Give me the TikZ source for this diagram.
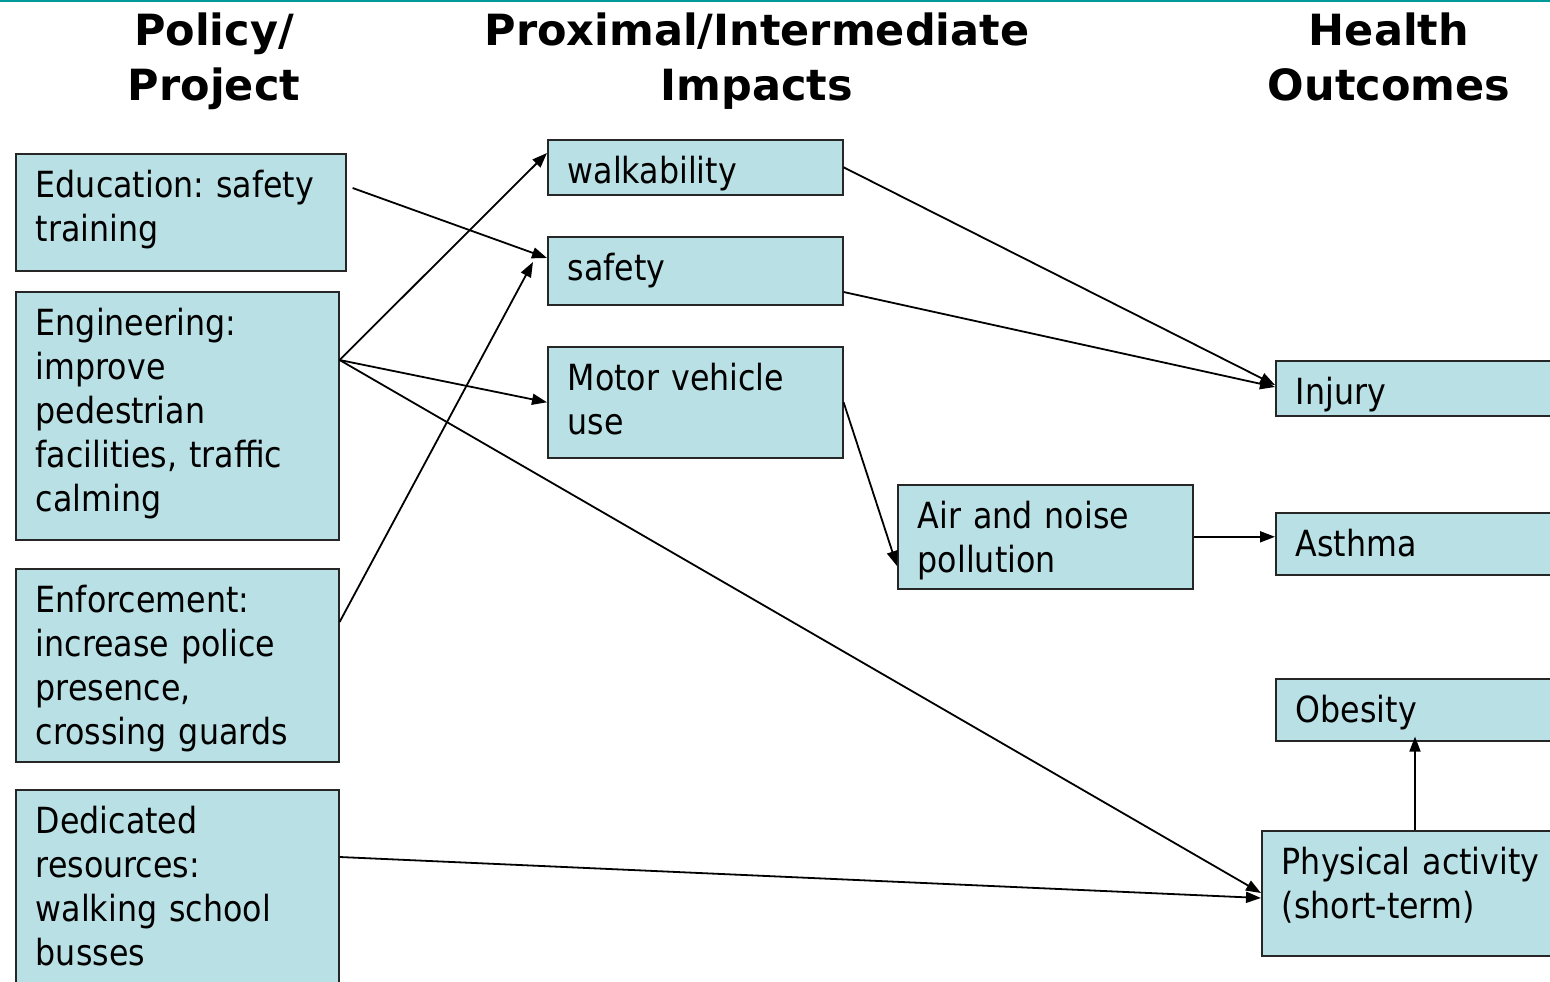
\documentclass[tikz,border=0pt]{standalone}
\usepackage{fontspec}
\setmainfont[FakeStretch=0.88]{DejaVu Sans}
\newfontfamily\headfont{DejaVu Sans}
\usetikzlibrary{arrows.meta}
\definecolor{boxfill}{RGB}{185,224,228}
\definecolor{topline}{RGB}{0,153,153}
\tikzset{
  box/.style={draw=black!85, fill=boxfill, line width=1.6pt, anchor=north west, align=left,
    inner xsep=20pt, inner ysep=0pt, text height=44pt, font=\fontsize{36}{44}\selectfont,
    execute at begin node={\frenchspacing\hyphenpenalty=10000 \exhyphenpenalty=10000 }},
  head/.style={anchor=base, align=center, font=\headfont\bfseries\fontsize{43}{55}\selectfont},
  link/.style={-{Triangle[length=15pt,width=11pt]}, line width=1.8pt}
}
\begin{document}
\begin{tikzpicture}[x=1pt,y=-1pt]
\useasboundingbox (0,0) rectangle (1550,982);
\clip (0,0) rectangle (1550,982);
\draw[topline, line width=2.5pt] (0,1) -- (1550,1);
% column titles
\node[head] (hpolicy) at (214,100) {Policy/\\Project};
\node[head] (himpact) at (757,100) {Proximal/Intermediate\\Impacts};
\node[head] (hhealth) at (1389,100) {Health\\Outcomes};
% policy / project
\node[box, text width=290pt, text depth=73pt] (edu) at (15,153) {Education: safety\\training};
\node[box, text width=283pt, text depth=204pt] (eng) at (15,291) {Engineering:\\improve\\pedestrian\\facilities, traffic\\calming};
\node[box, text width=283pt, text depth=149pt] (enf) at (15,568) {Enforcement:\\increase police\\presence,\\crossing guards};
\node[box, text width=283pt, text depth=166pt] (ded) at (15,789) {Dedicated\\resources:\\walking school\\busses};
% impacts
\node[box, text width=255pt, text depth=11pt] (walk) at (547,139) {walkability};
\node[box, text width=255pt, text depth=24pt] (safety) at (547,236) {safety};
\node[box, text width=255pt, text depth=67pt] (motor) at (547,346) {Motor vehicle\\use};
\node[box, text width=255pt, text depth=60pt] (air) at (897,484) {Air and noise\\pollution};
% outcomes
\node[box, text width=280pt, text depth=11pt] (inj) at (1275,360) {Injury};
\node[box, text width=280pt, text depth=18pt] (asthma) at (1275,512) {Asthma};
\node[box, text width=280pt, text depth=18pt] (obes) at (1275,678) {Obesity};
\node[box, text width=290pt, text depth=81pt] (phys) at (1261,830) {Physical activity\\(short-term)};
% links
\draw[link] ([xshift=6pt,yshift=-35pt]edu.north east) -- ([yshift=-22pt]safety.north west);
\draw[link] ([yshift=-69pt]eng.north east) -- ([yshift=-14pt]walk.north west);
\draw[link] ([yshift=-69pt]eng.north east) -- (motor.west);
\draw[link] ([yshift=-69pt]eng.north east) -- ([yshift=-63pt]phys.north west);
\draw[link] ([yshift=-54pt]enf.north east) -- ([xshift=-14pt,yshift=-26pt]safety.north west);
\draw[link] (motor.east) -- ([yshift=-82pt]air.north west);
\draw[link] (walk.east) -- ([yshift=-25pt]inj.north west);
\draw[link] ([yshift=-56pt]safety.north east) -- ([yshift=-27pt]inj.north west);
\draw[link] (air.east) -- (air.east -| asthma.west);
\draw[link] ([xshift=154pt]phys.north west) -- ([xshift=140pt,yshift=5pt]obes.south west);
\draw[link] ([yshift=-68pt]ded.north east) -- ([yshift=-68pt]phys.north west);
\end{tikzpicture}
\end{document}
